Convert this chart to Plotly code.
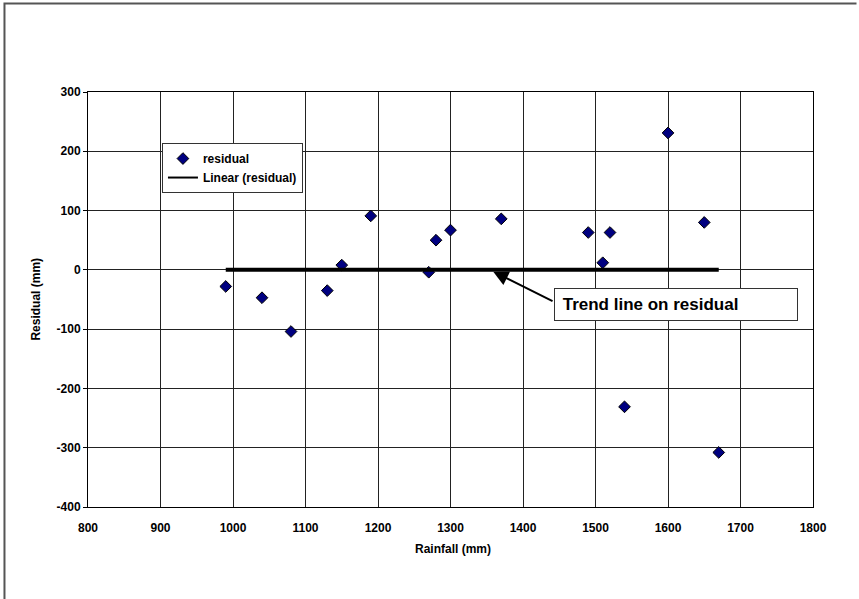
import plotly.graph_objects as go

# Residuals of annual runoff regression against rainfall
rainfall_mm = [990, 1040, 1080, 1130, 1150, 1190, 1270, 1280, 1300,
               1370, 1490, 1510, 1520, 1540, 1600, 1650, 1670]
residual_mm = [-28, -47, -104, -35, 8, 91, -4, 50, 67,
               86, 63, 12, 63, -231, 231, 80, -308]

# Linear trend fitted to the residuals (flat at zero)
trend_x = [990, 1670]
trend_y = [0, 0]

x_ticks = [800, 900, 1000, 1100, 1200, 1300, 1400, 1500, 1600, 1700, 1800]
y_ticks = [-400, -300, -200, -100, 0, 100, 200, 300]

FONT = "Liberation Sans, Arial, sans-serif"

fig = go.Figure()

fig.add_trace(go.Scatter(
    x=rainfall_mm, y=residual_mm, mode="markers", name="residual",
    marker=dict(symbol="diamond", size=9, color="#000080",
                line=dict(color="#000000", width=1)),
))

fig.add_trace(go.Scatter(
    x=trend_x, y=trend_y, mode="lines", name="Linear (residual)",
    line=dict(color="#000000", width=4), showlegend=False,
))

# legend entry for the trend with a thinner sample line
fig.add_trace(go.Scatter(
    x=[None], y=[None], mode="lines", name="Linear (residual)",
    line=dict(color="#000000", width=2),
))

axis_common = dict(
    showgrid=True, gridcolor="#222222", gridwidth=1,
    showline=True, linecolor="#000000", linewidth=1, mirror=True,
    zeroline=False,
    tickfont=dict(family=FONT, size=12, color="#000000", weight="bold"),
)

fig.update_xaxes(
    range=[800, 1800], tickmode="array", tickvals=x_ticks,
    ticktext=[str(v) for v in x_ticks],
    ticks="", ticklabelstandoff=10, **axis_common,
)
fig.update_yaxes(
    range=[-400, 300], tickmode="array", tickvals=y_ticks,
    ticktext=[str(v) for v in y_ticks],
    ticks="outside", ticklen=4, tickcolor="#000000", **axis_common,
)

frame_line = dict(color="#555555", width=2)

fig.update_layout(
    width=859, height=599,
    margin=dict(l=88, r=46, t=92, b=92),
    paper_bgcolor="#ffffff", plot_bgcolor="#ffffff",
    showlegend=True,
    legend=dict(
        x=0.102, y=0.877, xanchor="left", yanchor="top",
        bgcolor="#ffffff", bordercolor="#333333", borderwidth=1,
        font=dict(family=FONT, size=12, color="#000000", weight="bold"),
        tracegroupgap=0, itemwidth=30,
    ),
    shapes=[
        # outer chart frame (left and top edges)
        dict(type="path", xref="paper", yref="paper",
             path="M -0.1152,-0.25 L -0.1152,1.2133 L 1.06,1.2133",
             line=frame_line, layer="below"),
    ],
    annotations=[
        dict(text="Residual (mm)", xref="paper", yref="paper",
             x=-0.073, y=0.5, xanchor="center", yanchor="middle",
             textangle=-90, showarrow=False,
             font=dict(family=FONT, size=12, color="#000000", weight="bold")),
        dict(text="Rainfall (mm)", xref="paper", yref="paper",
             x=0.503, y=-0.101, xanchor="center", yanchor="middle",
             showarrow=False,
             font=dict(family=FONT, size=12, color="#000000", weight="bold")),
        # arrow pointing at the trend line
        dict(text="", x=1359, y=-3, xref="x", yref="y",
             ax=1442.8, ay=-54, axref="x", ayref="y",
             showarrow=True, arrowhead=2, arrowsize=1.5, arrowwidth=2,
             arrowcolor="#000000", standoff=0),
        dict(text="\u00a0Trend line on residual", x=1442.8, y=-58,
             xref="x", yref="y",
             xanchor="left", yanchor="middle", showarrow=False,
             align="left", width=236, height=25, borderpad=3,
             bgcolor="#ffffff", bordercolor="#333333", borderwidth=1,
             font=dict(family=FONT, size=17, color="#000000", weight="bold")),
    ],
)

fig.write_html("out.html")
